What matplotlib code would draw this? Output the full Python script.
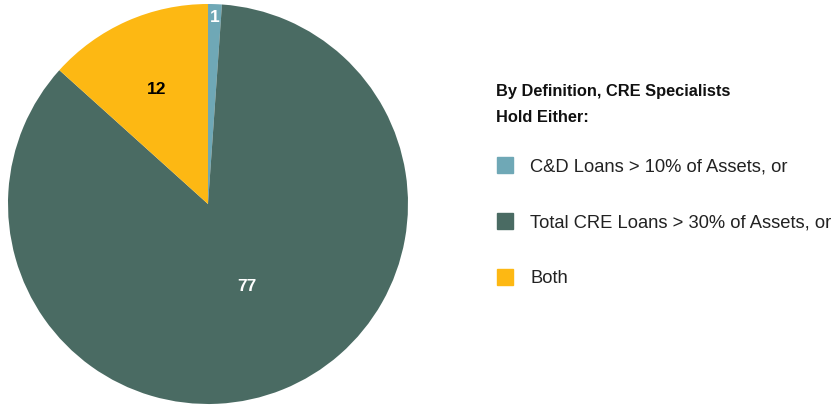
import matplotlib.pyplot as plt
import matplotlib.patches as mpatches
import numpy as np

categories = ["C&D Loans > 10% of Assets, or", "Total CRE Loans > 30% of Assets, or", "Both"]
values = [1, 77, 12]
colors = ["#6FA8B6", "#4A6B63", "#FDB813"]
label_colors = ["white", "white", "black"]
label_dist = [0.94, 0.45, 0.63]
label_shift = [0, 3.5, 0]  # degrees
title = "By Definition, CRE Specialists\nHold Either:"

W, H = 831, 406
fig = plt.figure(figsize=(W / 100, H / 100), dpi=100)
plt.rcParams["font.family"] = ["Liberation Sans", "DejaVu Sans"]

ax = fig.add_axes([8 / W, 1 / H, 400 / W, 400 / H])
wedges, _ = ax.pie(values, colors=colors, startangle=90, counterclock=False,
                   radius=1.0, wedgeprops=dict(linewidth=0))
ax.set_aspect("equal")
ax.set_xlim(-1, 1)
ax.set_ylim(-1, 1)

for w, v, c, d, s in zip(wedges, values, label_colors, label_dist, label_shift):
    ang = np.deg2rad((w.theta1 + w.theta2) / 2 + s)
    ax.text(d * np.cos(ang), d * np.sin(ang), str(v), color=c,
            fontsize=12.5, fontweight="bold", ha="center", va="center")

# legend
fig.text(496 / W, 1 - 84 / H, title, fontsize=11.8, fontweight="bold",
         ha="left", va="top", linespacing=1.95, color="#111111")
for i, (lab, col) in enumerate(zip(categories, colors)):
    yc = 166 + 56 * i
    fig.patches.append(mpatches.Rectangle((497 / W, 1 - (yc + 8) / H), 16 / W, 16 / H,
                                          transform=fig.transFigure, color=col))
    fig.text(530 / W, 1 - (yc + 1) / H, lab, fontsize=13.2, ha="left", va="center",
             color="#222222")

fig.savefig("out.png", dpi=100)
